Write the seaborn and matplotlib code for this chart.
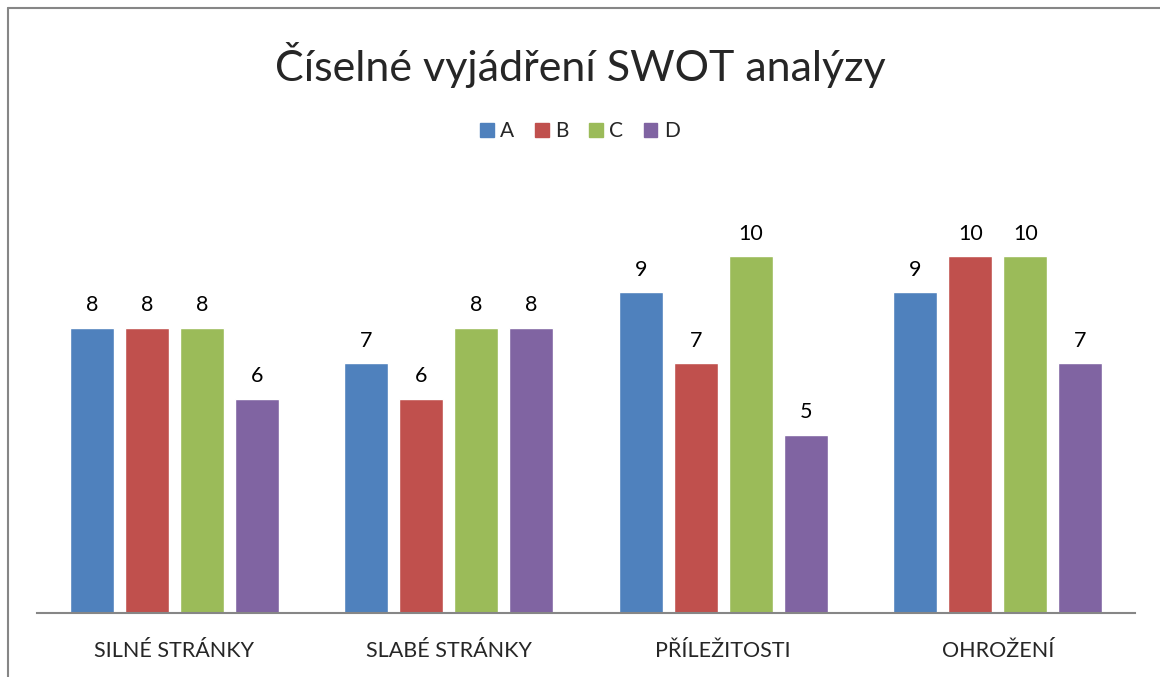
import pandas as pd
import seaborn as sns
import matplotlib.pyplot as plt
from matplotlib.lines import Line2D

# data
categories = ["SILNÉ STRÁNKY", "SLABÉ STRÁNKY", "PŘÍLEŽITOSTI", "OHROŽENÍ"]
series_names = ["A", "B", "C", "D"]
a_values = [8, 7, 9, 9]
b_values = [8, 6, 7, 10]
c_values = [8, 8, 10, 10]
d_values = [6, 8, 5, 7]
colors = ["#4F81BD", "#C0504D", "#9BBB59", "#8064A2"]
title = "Číselné vyjádření SWOT analýzy"

rows = []
for name, vals in zip(series_names, [a_values, b_values, c_values, d_values]):
    for cat, v in zip(categories, vals):
        rows.append({"kategorie": cat, "serie": name, "hodnota": v})
df = pd.DataFrame(rows)

sns.set_style("white")
plt.rcParams["font.family"] = ["Lato", "DejaVu Sans"]

fig = plt.figure(figsize=(11.6, 6.77), dpi=100)
ax = fig.add_axes([37 / 1160, 1 - 613 / 677, 1098 / 1160, 428 / 677])

sns.barplot(data=df, x="kategorie", y="hodnota", hue="serie", order=categories,
            hue_order=series_names, palette=colors, width=0.8, gap=0.2,
            saturation=1, ax=ax, legend=False)

for cont in ax.containers:
    ax.bar_label(cont, padding=9, fontsize=15.5, color="black")

ax.set_ylim(0, 12)
ax.set_xlim(-0.5, 3.5)
ax.set_xlabel("")
ax.set_ylabel("")
ax.set_yticks([])
ax.tick_params(axis="x", length=0, pad=20, labelsize=15.5)
for side in ["top", "right", "left"]:
    ax.spines[side].set_visible(False)
ax.spines["bottom"].set_color("#868686")
ax.spines["bottom"].set_linewidth(1.5)

fig.text(0.5, 1 - 65 / 677, title, ha="center", va="center", fontsize=31)

handles = [plt.Rectangle((0, 0), 1, 1, color=c) for c in colors]
fig.legend(handles, series_names, loc="center", bbox_to_anchor=(0.5, 1 - 131 / 677),
           ncol=4, frameon=False, fontsize=15, handlelength=0.65, handleheight=0.65,
           handletextpad=0.3, columnspacing=1.0)

# chart border (only top and left edges visible in the crop)
bx = 8 / 1160
by = 1 - 8 / 677
fig.add_artist(Line2D([bx, 1], [by, by], color="#868686", lw=1.5))
fig.add_artist(Line2D([bx, bx], [0, by], color="#868686", lw=1.5))

fig.savefig("out.png", dpi=100)
